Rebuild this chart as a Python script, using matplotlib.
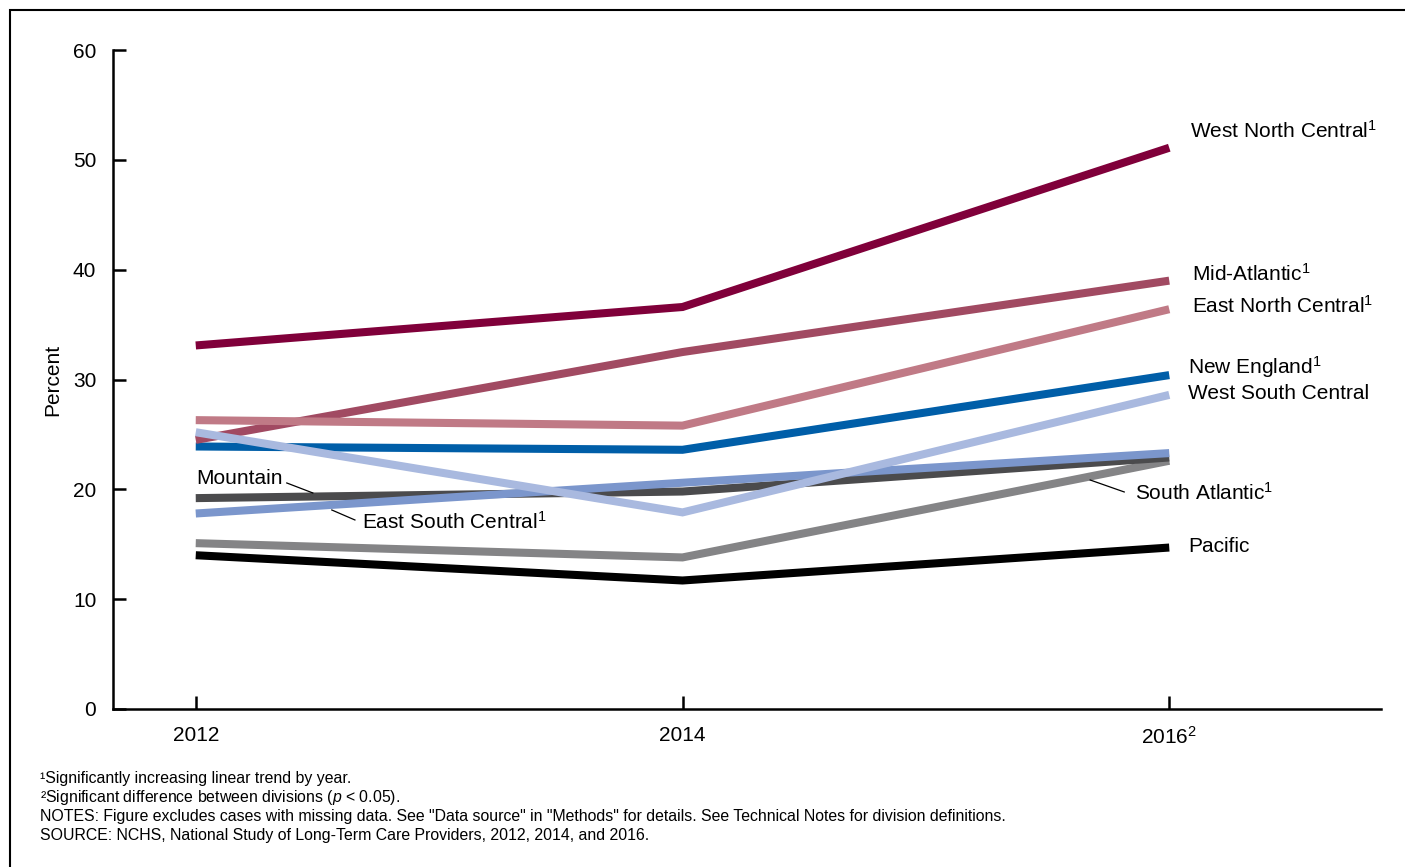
import matplotlib.pyplot as plt
from matplotlib.patches import Rectangle

plt.rcParams['font.family'] = ['Liberation Sans', 'DejaVu Sans']
plt.rcParams['mathtext.fontset'] = 'custom'
plt.rcParams['mathtext.rm'] = 'Liberation Sans'
plt.rcParams['mathtext.it'] = 'Liberation Sans:italic'

years = [2012, 2014, 2016]
year_labels = ['2012', '2014', '2016$^2$']

# percent by census division, drawn bottom to top
divisions = ['Pacific', 'South Atlantic', 'Mountain', 'East South Central',
             'New England', 'Mid-Atlantic', 'East North Central',
             'West South Central', 'West North Central']
pacific = [14.0, 11.7, 14.7]
south_atlantic = [15.1, 13.8, 22.6]
mountain = [19.2, 19.8, 22.9]
east_south_central = [17.8, 20.6, 23.3]
new_england = [23.9, 23.6, 30.4]
mid_atlantic = [24.5, 32.5, 39.0]
east_north_central = [26.3, 25.8, 36.4]
west_south_central = [25.2, 17.9, 28.6]
west_north_central = [33.1, 36.6, 51.1]
values = [pacific, south_atlantic, mountain, east_south_central, new_england,
          mid_atlantic, east_north_central, west_south_central, west_north_central]
colors = ['#000000', '#848486', '#4b4b4d', '#7b96cc', '#005ea8',
          '#a14a62', '#c07a86', '#a9b9df', '#80003a']

fig = plt.figure(figsize=(14.05, 8.67), dpi=100)
ax = fig.add_axes([113 / 1405, 1 - 709 / 867, (1381 - 113) / 1405, (709 - 50) / 867])

for name, vals, c in zip(divisions, values, colors):
    ax.plot(years, vals, color=c, lw=5.8, solid_capstyle='butt',
            solid_joinstyle='miter', label=name)

ax.set_xlim(2011.66, 2016.87)
ax.set_ylim(0, 60)
ax.set_xticks(years)
ax.set_xticklabels(year_labels)
ax.set_yticks(range(0, 61, 10))
ax.tick_params(direction='in', length=9.5, width=1.8, labelsize=15, pad=12)
for s in ['top', 'right']:
    ax.spines[s].set_visible(False)
for s in ['left', 'bottom']:
    ax.spines[s].set_linewidth(1.8)
ax.set_ylabel('Percent', fontsize=15, labelpad=8)

# division labels
fs = 15
ax.text(2016.086, 52.6, 'West North Central$^1$', fontsize=fs, va='center')
ax.text(2016.095, 39.6, 'Mid-Atlantic$^1$', fontsize=fs, va='center')
ax.text(2016.095, 36.7, 'East North Central$^1$', fontsize=fs, va='center')
ax.text(2016.078, 31.1, 'New England$^1$', fontsize=fs, va='center')
ax.text(2016.078, 28.7, 'West South Central', fontsize=fs, va='center')
ax.text(2016.078, 14.75, 'Pacific', fontsize=fs, va='center')
ax.text(2015.86, 19.7, 'South Atlantic$^1$', fontsize=fs, va='center')
ax.text(2012.004, 21.0, 'Mountain', fontsize=fs, va='center')
ax.text(2012.682, 17.0, 'East South Central$^1$', fontsize=fs, va='center')

# leader lines
ax.plot([2015.675, 2015.815], [20.85, 19.76], color='black', lw=0.9)
ax.plot([2012.374, 2012.481], [20.58, 19.67], color='black', lw=0.9)
ax.plot([2012.559, 2012.654], [18.12, 17.21], color='black', lw=0.9)

notes = [
    '\u00b9Significantly increasing linear trend by year.',
    '\u00b2Significant difference between divisions ($p$ < 0.05).',
    'NOTES: Figure excludes cases with missing data. See "Data source" in "Methods" for details. '
    'See Technical Notes for division definitions.',
    'SOURCE: NCHS, National Study of Long-Term Care Providers, 2012, 2014, and 2016.',
]
for i, line in enumerate(notes):
    fig.text(40 / 1405, 1 - (779 + i * 18.7) / 867, line, fontsize=11.4, va='center')

# outer frame, open at right and bottom
fig.patches.append(Rectangle((10 / 1405, -0.1), 1.2, 1.1 - 10 / 867,
                             transform=fig.transFigure, fill=False,
                             edgecolor='black', lw=1.5))

fig.savefig('out.png', dpi=100)
